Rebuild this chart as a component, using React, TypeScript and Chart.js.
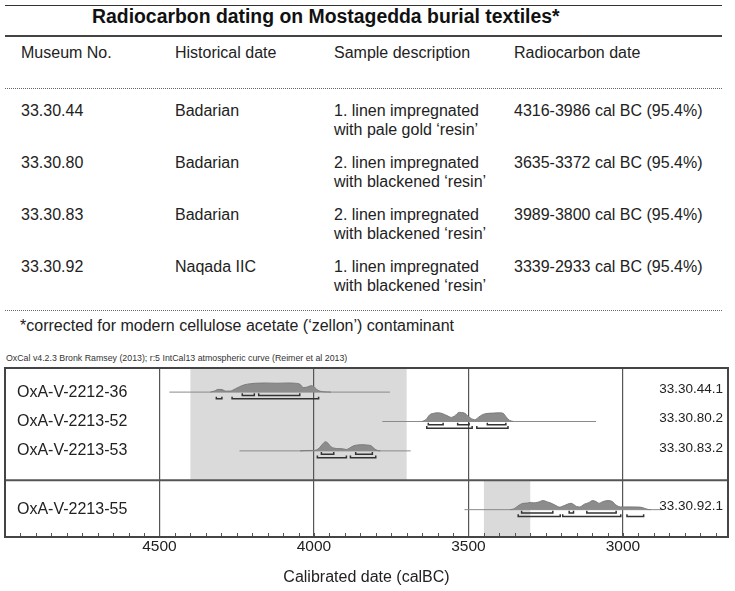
import React, { useEffect, useRef } from 'react';
import { Chart, registerables } from 'chart.js';

Chart.register(...registerables);

const FONT = '"Liberation Sans", Arial, Helvetica, sans-serif';

// ---------- table text ----------
const tableTitle = 'Radiocarbon dating on Mostagedda burial textiles*';
const tableHeaders = ['Museum No.', 'Historical date', 'Sample description', 'Radiocarbon date'];
const museumNos = ['33.30.44', '33.30.80', '33.30.83', '33.30.92'];
const historicalDates = ['Badarian', 'Badarian', 'Badarian', 'Naqada IIC'];
const sampleDescriptions = [
  ['1. linen impregnated', 'with pale gold \u2018resin\u2019'],
  ['2. linen impregnated', 'with blackened \u2018resin\u2019'],
  ['2. linen impregnated', 'with blackened \u2018resin\u2019'],
  ['1. linen impregnated', 'with blackened \u2018resin\u2019'],
];
const radiocarbonDates = [
  '4316-3986 cal BC (95.4%)',
  '3635-3372 cal BC (95.4%)',
  '3989-3800 cal BC (95.4%)',
  '3339-2933 cal BC (95.4%)',
];
const footnote = '*corrected for modern cellulose acetate (\u2018zellon\u2019) contaminant';
const oxcalCaption = 'OxCal v4.2.3 Bronk Ramsey (2013); r:5 IntCal13 atmospheric curve (Reimer et al 2013)';

// ---------- chart data ----------
const labCodes = ['OxA-V-2212-36', 'OxA-V-2213-52', 'OxA-V-2213-53', 'OxA-V-2213-55'];
const sampleCodes = ['33.30.44.1', '33.30.80.2', '33.30.83.2', '33.30.92.1'];
const axisTitle = 'Calibrated date (calBC)';
const majorTicks = [4500, 4000, 3500, 3000];

// shaded historical periods (calBC)
const badarianSpan = [4400, 3700];
const naqadaIICSpan = [3450, 3300];

// extent of each calibration (thin line)
const calRanges = [
  [4468, 3754],
  [3779, 3087],
  [4241, 3687],
  [3513, 2872],
];

// probability distributions: [year calBC, relative probability]
const dist44 = [
  [4335, 0], [4322, 0.12], [4310, 0.3], [4298, 0.28], [4285, 0.1], [4270, 0.12],
  [4255, 0.35], [4240, 0.6], [4225, 0.8], [4205, 0.92], [4190, 0.97], [4160, 1.0],
  [4120, 0.97], [4085, 1.0], [4060, 0.97], [4045, 0.85], [4035, 0.5], [4022, 0.55],
  [4010, 0.7], [4000, 0.6], [3990, 0.25], [3978, 0.08], [3960, 0.02], [3945, 0],
];
const dist80 = [
  [3650, 0], [3638, 0.2], [3625, 0.75], [3612, 0.9], [3598, 0.95], [3585, 0.88],
  [3570, 0.65], [3555, 0.45], [3545, 0.6], [3530, 1.0], [3515, 0.95], [3500, 0.55],
  [3490, 0.3], [3480, 0.2], [3468, 0.45], [3455, 0.75], [3440, 0.88], [3420, 0.92],
  [3400, 0.95], [3388, 0.9], [3378, 0.5], [3368, 0.15], [3355, 0],
];
const dist83 = [
  [4045, 0], [4030, 0.03], [4005, 0.05], [3992, 0.1], [3982, 0.35], [3972, 0.75],
  [3963, 1.0], [3955, 0.85], [3945, 0.45], [3935, 0.3], [3920, 0.25], [3905, 0.22],
  [3895, 0.15], [3885, 0.3], [3872, 0.55], [3858, 0.65], [3845, 0.68], [3830, 0.65],
  [3815, 0.55], [3805, 0.25], [3795, 0.05], [3785, 0],
];
const dist92 = [
  [3365, 0], [3352, 0.1], [3340, 0.4], [3325, 0.68], [3310, 0.72], [3300, 0.8],
  [3290, 0.75], [3275, 0.82], [3258, 1.0], [3245, 0.85], [3235, 0.75], [3220, 0.5],
  [3205, 0.28], [3190, 0.45], [3168, 0.7], [3150, 0.35], [3140, 0.3], [3125, 0.6],
  [3112, 0.75], [3098, 1.0], [3085, 0.85], [3078, 0.7], [3065, 0.88], [3048, 1.0],
  [3035, 0.9], [3020, 0.45], [3008, 0.3], [2995, 0.3], [2970, 0.3], [2945, 0.28],
  [2930, 0.15], [2918, 0.02], [2910, 0],
];
const distributions = [dist44, dist80, dist83, dist92];

// 68.2% and 95.4% ranges
const ranges68 = [
  [[4232, 4193], [4179, 4046]],
  [[3630, 3582], [3535, 3498], [3439, 3379]],
  [[3976, 3936], [3865, 3811]],
  [[3328, 3227], [3174, 3160], [3117, 3022]],
];
const ranges95 = [
  [[4316, 4298], [4265, 3985]],
  [[3635, 3488], [3473, 3372]],
  [[3989, 3895], [3882, 3800]],
  [[3339, 3203], [3195, 3007], [2987, 2933]],
];

// ---------- layout (not data) ----------
const X_MIN = 2660;
const X_MAX = 5000;
const ROW_SLOT = [1, 2, 3, 5];
const GROUP_SPLIT = 4;
const Y_MIN = 0.18;
const Y_MAX = 5.93;
const PEAK = 0.31;
const OFF68 = 0.115;
const OFF95 = 0.23;
const TICK = 0.075;

function bracketPoints(list: number[][], yv: number) {
  const pts: any[] = [];
  list.forEach(([a, b]) => {
    pts.push({ x: a, y: yv - TICK }, { x: a, y: yv }, { x: b, y: yv }, { x: b, y: yv - TICK }, { x: b, y: null });
  });
  return pts;
}

function buildDatasets() {
  const ds: any[] = [];
  distributions.forEach((d, i) => {
    const s = ROW_SLOT[i];
    ds.push({
      data: bracketPoints(ranges68[i], s + OFF68),
      borderColor: '#333', borderWidth: 1.5, pointRadius: 0, fill: false, spanGaps: false,
    });
    ds.push({
      data: bracketPoints(ranges95[i], s + OFF95),
      borderColor: '#333', borderWidth: 1.5, pointRadius: 0, fill: false, spanGaps: false,
    });
    ds.push({
      data: d.map(([x, h]) => ({ x, y: s - h * PEAK })),
      borderColor: '#7c7c7c', borderWidth: 1, backgroundColor: '#8c8c8c',
      pointRadius: 0, fill: { value: s }, cubicInterpolationMode: 'monotone',
    });
  });
  calRanges.forEach(([a, b], i) => {
    const s = ROW_SLOT[i];
    ds.push({
      data: [{ x: a, y: s }, { x: b, y: s }],
      borderColor: '#8a8a8a', borderWidth: 1, pointRadius: 0, fill: false,
    });
  });
  return ds;
}

const decor = {
  id: 'decor',
  beforeDraw(chart: any) {
    const { ctx, chartArea, scales } = chart;
    const x = scales.x, y = scales.y;
    const split = y.getPixelForValue(GROUP_SPLIT);
    ctx.save();
    ctx.fillStyle = '#dadada';
    const b0 = x.getPixelForValue(badarianSpan[0]);
    const b1 = x.getPixelForValue(badarianSpan[1]);
    ctx.fillRect(b0, chartArea.top, b1 - b0, split - chartArea.top);
    const n0 = x.getPixelForValue(naqadaIICSpan[0]);
    const n1 = x.getPixelForValue(naqadaIICSpan[1]);
    ctx.fillRect(n0, split, n1 - n0, chartArea.bottom - split);
    ctx.restore();
  },
  afterDraw(chart: any) {
    const { ctx, chartArea, scales } = chart;
    const { left, right, top, bottom } = chartArea;
    const x = scales.x, y = scales.y;
    ctx.save();
    // minor ticks
    ctx.strokeStyle = '#555';
    ctx.lineWidth = 1;
    ctx.beginPath();
    x.ticks.forEach((t: any) => {
      const v = t.value;
      if (v % 50 !== 0 || v <= X_MIN || v >= X_MAX) return;
      const px = Math.round(x.getPixelForValue(v)) + 0.5;
      ctx.moveTo(px, bottom);
      ctx.lineTo(px, bottom - 4);
    });
    ctx.stroke();
    // group separator
    const split = y.getPixelForValue(GROUP_SPLIT);
    ctx.strokeStyle = '#555';
    ctx.lineWidth = 2;
    ctx.beginPath();
    ctx.moveTo(left, split);
    ctx.lineTo(right, split);
    ctx.stroke();
    // frame
    ctx.strokeStyle = '#444';
    ctx.lineWidth = 2;
    ctx.strokeRect(left, top, right - left, bottom - top);
    // labels
    ctx.fillStyle = '#222';
    ctx.textBaseline = 'middle';
    ctx.font = `16px ${FONT}`;
    ctx.textAlign = 'left';
    labCodes.forEach((t, i) => ctx.fillText(t, left + 12, y.getPixelForValue(ROW_SLOT[i])));
    ctx.font = `13.5px ${FONT}`;
    ctx.textAlign = 'right';
    sampleCodes.forEach((t, i) => ctx.fillText(t, right - 5, y.getPixelForValue(ROW_SLOT[i]) - 3));
    ctx.restore();
  },
};

const txt = (top: number, left: number, extra: any = {}) => ({
  position: 'absolute' as const, top, left, whiteSpace: 'nowrap' as const,
  fontSize: 16, lineHeight: '18px', ...extra,
});

const COLS = [21, 175, 334, 514];
const ROW_Y = [111, 163, 215, 267];

export default function App() {
  const ref = useRef<HTMLCanvasElement>(null);
  useEffect(() => {
    const chart = new Chart(ref.current as HTMLCanvasElement, {
      type: 'line',
      data: { datasets: buildDatasets() },
      options: {
        animation: false,
        responsive: false,
        events: [],
        layout: { padding: { left: 5, right: 7, top: 368, bottom: 0 } },
        plugins: { legend: { display: false }, tooltip: { enabled: false } },
        scales: {
          x: {
            type: 'linear',
            reverse: true,
            min: X_MIN,
            max: X_MAX,
            afterFit: (s: any) => { s.height = 54; },
            border: { display: false },
            grid: {
              drawTicks: false,
              lineWidth: 1.2,
              color: (c: any) => (c.tick && majorTicks.includes(c.tick.value) ? '#555' : 'rgba(0,0,0,0)'),
            },
            ticks: {
              stepSize: 50,
              autoSkip: false,
              includeBounds: false,
              maxRotation: 0,
              minRotation: 0,
              padding: 0,
              color: '#222',
              font: { size: 15.5, family: FONT },
              callback: (v: any) => (majorTicks.includes(Number(v)) ? String(v) : ''),
            },
            title: {
              display: true,
              text: axisTitle,
              color: '#222',
              font: { size: 16, family: FONT },
              padding: { top: 0, bottom: 3.4 },
            },
          },
          y: { type: 'linear', display: false, reverse: true, min: Y_MIN, max: Y_MAX },
        },
      } as any,
      plugins: [decor],
    });
    return () => chart.destroy();
  }, []);

  return (
    <div style={{ position: 'absolute', left: 0, top: 0, width: 735, height: 591, background: '#fff', overflow: 'hidden', fontFamily: FONT, color: '#222' }}>
      <div style={{ position: 'absolute', left: 5, top: 5, width: 717, borderTop: '1.5px solid #333' }} />
      <div style={txt(5, 92, { fontSize: 19.4, lineHeight: '22px', fontWeight: 'bold', color: '#111' })}>{tableTitle}</div>
      <div style={{ position: 'absolute', left: 5, top: 35, width: 717, borderTop: '2px solid #444' }} />
      {tableHeaders.map((h, i) => (
        <div key={h} style={txt(53 - 9, COLS[i])}>{h}</div>
      ))}
      <div style={{ position: 'absolute', left: 5, top: 88, width: 717, borderTop: '1px dotted #666' }} />
      {museumNos.map((m, r) => (
        <React.Fragment key={m}>
          <div style={txt(ROW_Y[r] - 9, COLS[0])}>{m}</div>
          <div style={txt(ROW_Y[r] - 9, COLS[1])}>{historicalDates[r]}</div>
          <div style={txt(ROW_Y[r] - 9, COLS[2])}>{sampleDescriptions[r][0]}</div>
          <div style={txt(ROW_Y[r] + 10, COLS[2])}>{sampleDescriptions[r][1]}</div>
          <div style={txt(ROW_Y[r] - 9, COLS[3])}>{radiocarbonDates[r]}</div>
        </React.Fragment>
      ))}
      <div style={{ position: 'absolute', left: 5, top: 310, width: 717, borderTop: '1px dotted #666' }} />
      <div style={txt(326 - 9, 20)}>{footnote}</div>
      <div style={txt(353, 6, { fontSize: 8.8, lineHeight: '10px', color: '#333' })}>{oxcalCaption}</div>
      <canvas ref={ref} width={735} height={591} style={{ position: 'absolute', left: 0, top: 0, display: 'block' }} />
    </div>
  );
}
